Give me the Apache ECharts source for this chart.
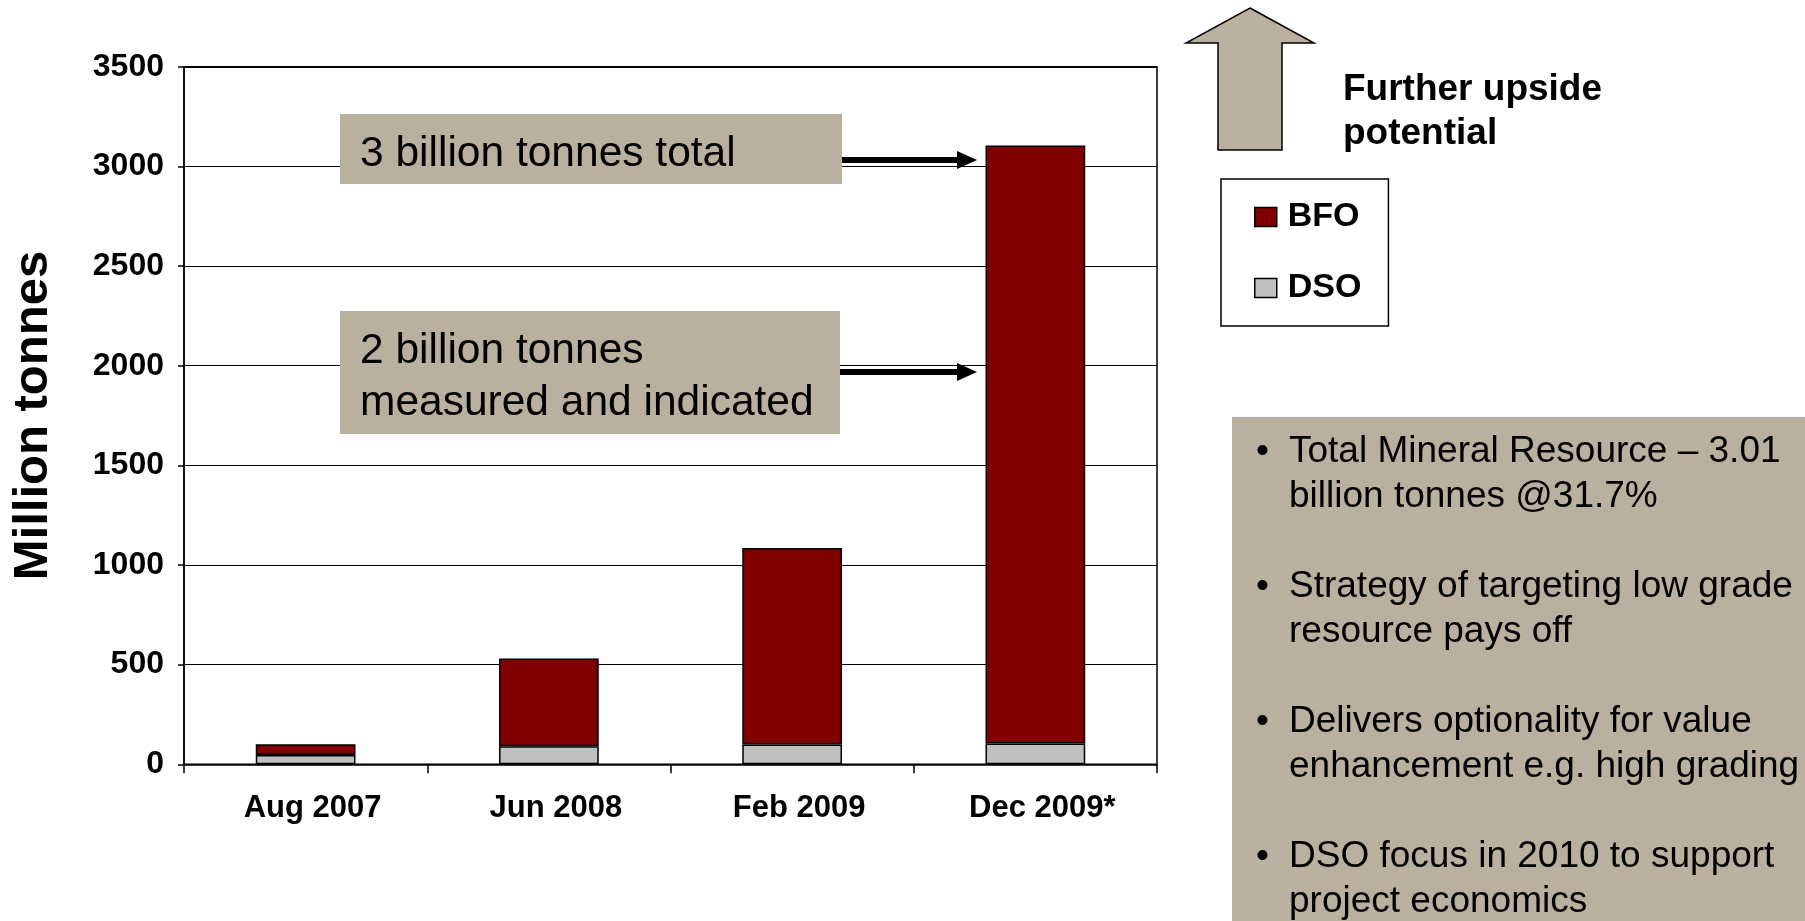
<!DOCTYPE html>
<html>
<head>
<meta charset="utf-8">
<script src="https://cdn.jsdelivr.net/npm/echarts@6/dist/echarts.min.js"></script>
<style>
html,body{margin:0;padding:0;background:#fff;}
#chart{width:1805px;height:921px;}
</style>
</head>
<body>
<div id="chart"></div>
<script>
const categories = ['Aug 2007', 'Jun 2008', 'Feb 2009', 'Dec 2009*'];
const dsoValues = [47, 90, 99, 105];
const bfoValues = [53, 441, 986, 3000];
const yTicks = [0, 500, 1000, 1500, 2000, 2500, 3000, 3500];
const axisTitle = 'Million tonnes';
const calloutTotal = ['3 billion tonnes total'];
const calloutMI = ['2 billion tonnes', 'measured and indicated'];
const upsideText = ['Further upside', 'potential'];
const bullets = [
  ['Total Mineral Resource \u2013 3.01', 'billion tonnes @31.7%'],
  ['Strategy of targeting low grade', 'resource pays off'],
  ['Delivers optionality for value', 'enhancement e.g. high grading'],
  ['DSO focus in 2010 to support', 'project economics']
];

const FONT = '"Liberation Sans", Arial, Helvetica, sans-serif';
const BEIGE = '#BAB09F';

const chart = echarts.init(document.getElementById('chart'));

const graphics = [];
// callout box 1
graphics.push({type:'rect', shape:{x:340,y:114,width:502,height:70}, style:{fill:BEIGE}, z:10});
calloutTotal.forEach((t,i)=>graphics.push({type:'text', x:360, y:154+i*52, style:{text:t, fill:'#000', font:'42.5px '+FONT, verticalAlign:'middle'}, z:11}));
// callout box 2
graphics.push({type:'rect', shape:{x:340,y:311,width:500,height:123}, style:{fill:BEIGE}, z:10});
calloutMI.forEach((t,i)=>graphics.push({type:'text', x:360, y:351+i*52, style:{text:t, fill:'#000', font:'42.5px '+FONT, verticalAlign:'middle'}, z:11}));
// arrows
[[842,160],[840,372]].forEach(([x,y])=>{
  graphics.push({type:'line', shape:{x1:x,y1:y,x2:960,y2:y}, style:{stroke:'#000', lineWidth:6}, z:11});
  graphics.push({type:'polygon', shape:{points:[[957,y-9],[977,y],[957,y+9]]}, style:{fill:'#000'}, z:11});
});
// up arrow
graphics.push({type:'polygon', shape:{points:[[1250,8],[1314,43],[1282,43],[1282,150],[1218,150],[1218,43],[1186,43]]}, style:{fill:BEIGE, stroke:'#000', lineWidth:1.5}, z:10});
upsideText.forEach((t,i)=>graphics.push({type:'text', x:1343, y:90+i*44, style:{text:t, fill:'#000', font:'bold 37px '+FONT, verticalAlign:'middle'}, z:11}));
// bullets box
graphics.push({type:'rect', shape:{x:1232,y:417,width:573,height:504}, style:{fill:BEIGE}, z:10});
bullets.forEach((para,p)=>{
  const y0 = 452 + p*135;
  graphics.push({type:'text', x:1256, y:y0, style:{text:'\u2022', fill:'#000', font:'37px '+FONT, verticalAlign:'middle'}, z:11});
  para.forEach((t,i)=>graphics.push({type:'text', x:1289, y:y0+i*45, style:{text:t, fill:'#000', font:'37px '+FONT, verticalAlign:'middle'}, z:11}));
});

const option = {
  backgroundColor:'#fff',
  animation:false,
  grid:{left:184, right:648, top:66.8, bottom:156.7, show:true, borderColor:'#000', borderWidth:1.5, backgroundColor:'transparent'},
  legend:{
    data:['BFO','DSO'], orient:'vertical', left:1221, top:179,
    width:168,
    padding:[21,27,21,33], itemGap:37, itemWidth:22, itemHeight:19,
    borderColor:'#000', borderWidth:1.5, backgroundColor:'#fff',
    icon:'rect',
    itemStyle:{borderColor:'#000', borderWidth:1.5},
    textStyle:{fontFamily:FONT, fontWeight:'bold', fontSize:34, color:'#000', lineHeight:33, padding:[0,0,0,6]}
  },
  xAxis:{
    type:'category', data:categories,
    axisLine:{lineStyle:{color:'#000', width:1.5}},
    axisTick:{show:true, length:9, lineStyle:{color:'#000', width:1.5}},
    axisLabel:{fontFamily:FONT, fontWeight:'bold', fontSize:31, color:'#000', margin:29, padding:[0,0,0,14]}
  },
  yAxis:{
    type:'value', min:yTicks[0], max:yTicks[yTicks.length-1], interval:yTicks[1]-yTicks[0],
    name:axisTitle, nameLocation:'middle', nameGap:126, nameRotate:90,
    nameTextStyle:{fontFamily:FONT, fontWeight:'bold', fontSize:49, color:'#000'},
    axisLine:{show:true, lineStyle:{color:'#000', width:1.5}},
    axisTick:{show:true, length:6, lineStyle:{color:'#000', width:1.5}},
    axisLabel:{fontFamily:FONT, fontWeight:'bold', fontSize:32, color:'#000', margin:20, formatter:(v)=>String(v)},
    splitLine:{show:true, lineStyle:{color:'#000', width:1.2}}
  },
  series:[
    {name:'DSO', type:'bar', stack:'t', data:dsoValues, barWidth:'41%', itemStyle:{color:'#C0C0C0', borderColor:'#000', borderWidth:1.5}},
    {name:'BFO', type:'bar', stack:'t', data:bfoValues, barWidth:'41%', itemStyle:{color:'#800000', borderColor:'#000', borderWidth:1.5}}
  ],
  graphic:graphics
};
chart.setOption(option);
</script>
</body>
</html>
